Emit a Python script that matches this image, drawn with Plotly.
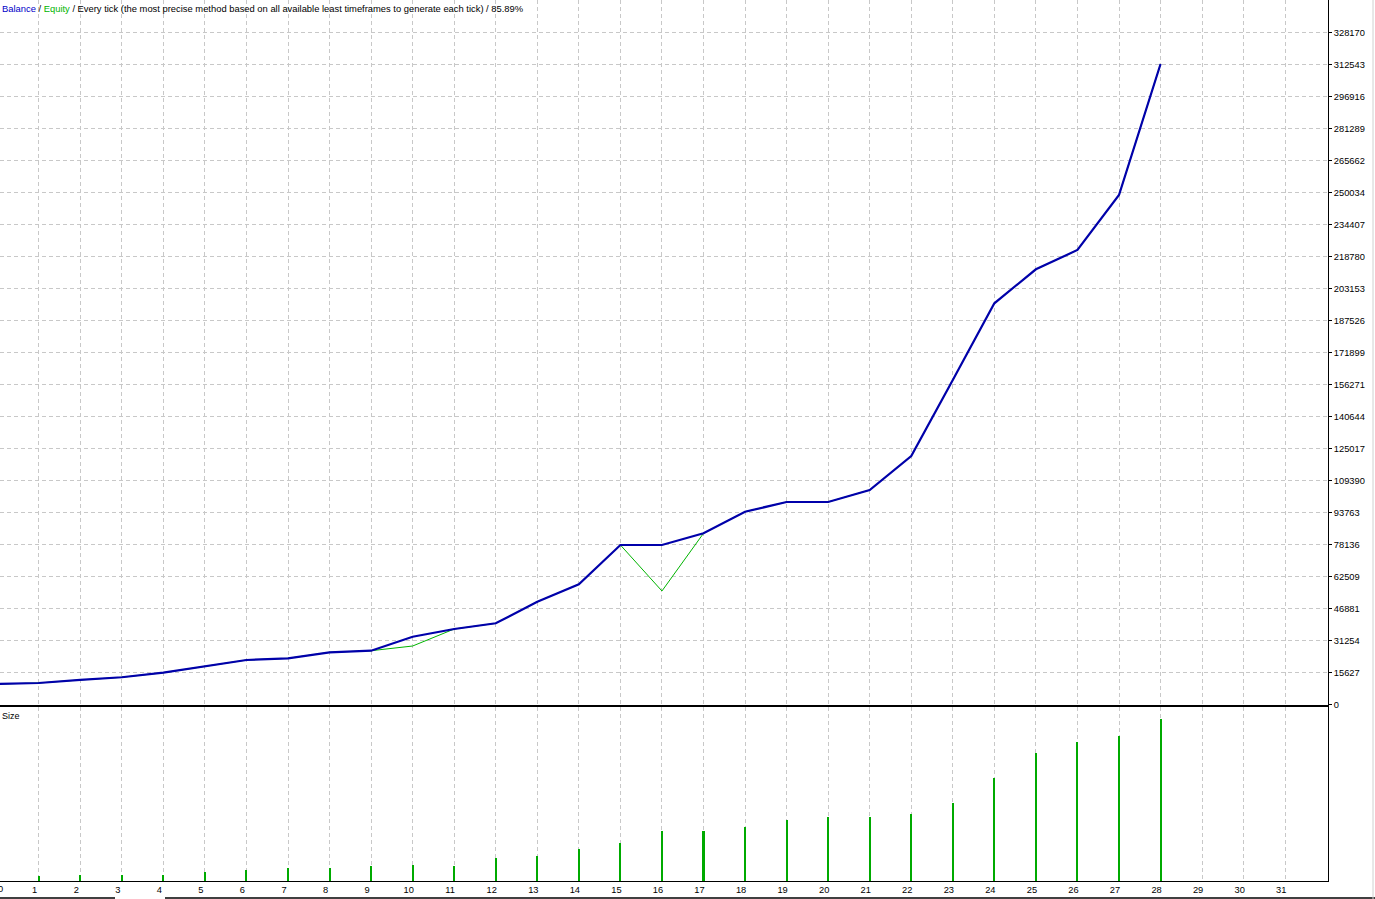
import plotly.graph_objects as go

# ---- data ----
trade_idx = list(range(29))
balance = [10000, 10500, 12000, 13300, 15530, 18460, 21730, 22560, 25490, 26270,
           33110, 36870, 39650, 50200, 58700, 77890, 77890, 83600, 94150, 98890,
           98890, 104750, 121360, 158470, 195925, 212530, 221960, 248810, 312790]
equity = [10000, 10500, 12000, 13300, 15530, 18460, 21730, 22560, 25490, 26270,
          28570, 36870, 39650, 50200, 58700, 77890, 55430, 83600, 94150, 98890,
          98890, 104750, 121360, 158470, 195925, 212530, 221960, 248810, 312790]
size_idx = list(range(1, 29))
size_vals = [0.10, 0.13, 0.13, 0.13, 0.19, 0.22, 0.27, 0.27, 0.31, 0.33,
             0.31, 0.47, 0.50, 0.65, 0.77, 1.01, 1.01, 1.09, 1.23, 1.29,
             1.29, 1.35, 1.57, 2.07, 2.57, 2.79, 2.91, 3.25]
y_tick_labels = ["0", "15627", "31254", "46881", "62509", "78136", "93763", "109390",
                 "125017", "140644", "156271", "171899", "187526", "203153", "218780",
                 "234407", "250034", "265662", "281289", "296916", "312543", "328170"]
x_tick_vals = list(range(32))
title_text = ("<span style='color:#0000C8'>Balance</span> / "
              "<span style='color:#00B400'>Equity</span> / Every tick (the most precise "
              "method based on all available least timeframes to generate each tick) / 85.89%")

y_tick_vals = [int(v) for v in y_tick_labels]

FONT = "Liberation Sans"
GRID = "#C8C8C8"
DASH = "4px,3px"

fig = go.Figure()
fig.add_trace(go.Scatter(x=trade_idx, y=equity, mode="lines",
                         line=dict(color="#00B400", width=1), xaxis="x", yaxis="y",
                         hoverinfo="skip"))
fig.add_trace(go.Scatter(x=trade_idx, y=balance, mode="lines",
                         line=dict(color="#0000AA", width=2.2), xaxis="x", yaxis="y",
                         hoverinfo="skip"))
fig.add_trace(go.Bar(x=size_idx, y=size_vals, width=0.05, marker=dict(color="#00AA00", line=dict(width=0)),
                     xaxis="x2", yaxis="y2", hoverinfo="skip"))

W, H = 1375, 899
L, R, T, B = 0, 47, 0, 18
ph = H - T - B  # 881
main_bottom_px = 705
sub_top_px = 707

fig.update_layout(
    width=W, height=H,
    margin=dict(l=L, r=R, t=T, b=B, pad=0),
    paper_bgcolor="white", plot_bgcolor="white",
    showlegend=False,
    font=dict(family=FONT, size=9, color="black"),
    bargap=0,
    xaxis=dict(domain=[0, 1], anchor="y", range=[0.0686, 32.03],
               tickvals=x_tick_vals, showticklabels=False, ticks="",
               showgrid=True, gridcolor=GRID, griddash=DASH, gridwidth=1,
               showline=True, linecolor="black", linewidth=1, zeroline=False),
    yaxis=dict(domain=[(ph - main_bottom_px) / ph, 1], anchor="x", side="right",
               range=[-244, 344040], tickvals=y_tick_vals, ticktext=y_tick_labels,
               ticks="outside", ticklen=3, tickcolor="black",
               showgrid=True, gridcolor=GRID, griddash=DASH, gridwidth=1,
               showline=True, linecolor="black", linewidth=1, zeroline=False,
               tickfont=dict(family=FONT, size=9.3, color="black")),
    xaxis2=dict(domain=[0, 1], anchor="y2", range=[0.0686, 32.03],
                tickvals=x_tick_vals, ticktext=[str(v) for v in x_tick_vals],
                ticks="", ticklabelshift=-4,
                showgrid=True, gridcolor=GRID, griddash=DASH, gridwidth=1,
                showline=True, linecolor="black", linewidth=1, mirror=True, zeroline=False,
                tickfont=dict(family=FONT, size=9.3, color="black")),
    yaxis2=dict(domain=[0, (ph - sub_top_px) / ph], anchor="x2", side="right",
                range=[0, 3.48], showticklabels=False, ticks="", showgrid=False,
                showline=True, linecolor="black", linewidth=1, zeroline=False),
    annotations=[
        dict(text=title_text, xref="paper", yref="paper", x=0, y=1, xanchor="left",
             yanchor="top", showarrow=False, font=dict(family=FONT, size=9.4, color="black"),
             xshift=0, yshift=-1),
        dict(text="Size", xref="paper", yref="paper", x=0, y=(ph - sub_top_px) / ph,
             xanchor="left", yanchor="top", showarrow=False,
             font=dict(family=FONT, size=9, color="black"), xshift=0, yshift=-2),
        dict(text="0", xref="paper", yref="paper", x=0, y=0, xanchor="center",
             yanchor="top", showarrow=False, font=dict(family=FONT, size=9.3, color="black"),
             xshift=0, yshift=-1),
    ],
    shapes=[
        dict(type="line", xref="paper", yref="paper", x0=0, x1=115 / 1328,
             y0=(ph - 898) / ph, y1=(ph - 898) / ph, line=dict(color="black", width=1.5)),
        dict(type="line", xref="paper", yref="paper", x0=165 / 1328, x1=1375 / 1328,
             y0=(ph - 898) / ph, y1=(ph - 898) / ph, line=dict(color="black", width=1.5)),
        dict(type="line", xref="paper", yref="paper", x0=1373 / 1328, x1=1373 / 1328,
             y0=(ph - 0) / ph, y1=(ph - 899) / ph, line=dict(color="#D0D0D0", width=1)),
    ],
)

fig.write_html("out.html", config={"displayModeBar": False, "staticPlot": True},
               post_script="document.body.style.margin='0';document.body.style.padding='0';"
                           "document.body.style.overflow='hidden';")
